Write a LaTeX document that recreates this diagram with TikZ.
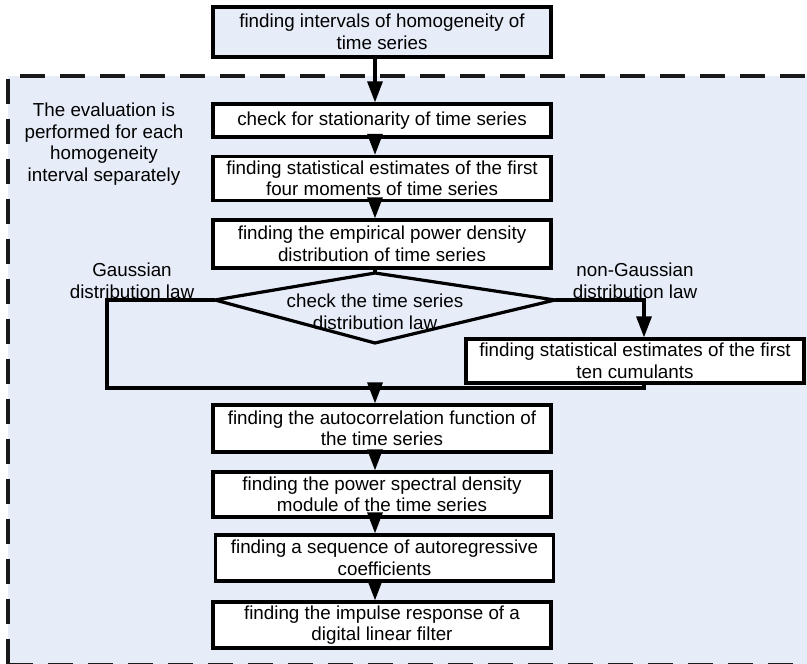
\documentclass[tikz,border=0pt]{standalone}
\usepackage{fontspec}
\setmainfont{Liberation Sans}
\usetikzlibrary{arrows.meta,calc}
\definecolor{bgblue}{RGB}{230,237,248}
\begin{document}
\begin{tikzpicture}[x=1bp,y=-1bp,
  font=\fontsize{18.8bp}{21.5bp}\selectfont,
  box/.style={draw=black,line width=3.2bp,fill=white,minimum width=338bp,inner sep=0pt,align=center},
  arr/.style={line width=3.2bp,-{Triangle[width=15bp,length=21bp]}},
  conn/.style={line width=3.2bp},
  lbl/.style={align=center,inner sep=0pt},
  frame/.style={line width=3.5bp,dash pattern=on 25bp off 15bp,black!90}]
\useasboundingbox (0,0) rectangle (807,664);
\fill[bgblue] (8,76) rectangle (830,670);
\draw[frame] (8,664) -- (8,76) -- (820,76);
\draw[frame] (8,665) -- (820,665);

\node[box,fill=bgblue,minimum height=50bp] (n0) at (382,32) {finding intervals of homogeneity of\\time series};
\node[box,minimum height=33bp] (n1) at (382,120.5) {check for stationarity of time series};
\node[box,minimum height=44bp] (n2) at (382,178.5) {finding statistical estimates of the first\\four moments of time series};
\node[box,minimum height=48bp] (n3) at (382,244) {finding the empirical power density\\distribution of time series};

\coordinate (dt) at (375,273);
\coordinate (dr) at (555,300);
\coordinate (db) at (375,343);
\coordinate (dl) at (215,300);
\draw[conn] (dt) -- (dr) -- (db) -- (dl) -- cycle;
\node[lbl] (dtext) at (375,312) {check the time series\\distribution law};

\node[box,minimum height=44bp] (n4) at (635,361) {finding statistical estimates of the first\\ten cumulants};
\node[box,minimum height=47bp] (n5) at (382,428.5) {finding the autocorrelation function of\\the time series};
\node[box,minimum height=45bp] (n6) at (382,494.5) {finding the power spectral density\\module of the time series};
\node[box,minimum height=46bp] (n7) at (384.5,558) {finding a sequence of autoregressive\\coefficients};
\node[box,minimum height=46bp] (n8) at (382,625) {finding the impulse response of a\\digital linear filter};

\node[lbl] (gauss) at (132,281) {Gaussian\\distribution law};
\node[lbl] (ngauss) at (635,281) {non-Gaussian\\distribution law};
\node[lbl] (note) at (104,144) {The evaluation is\\performed for each\\homogeneity\\interval separately};

\coordinate (sp) at (375,0);
\coordinate (gl) at (107,388);
\coordinate (jr) at (644,388);
\draw[arr] (n0.south -| sp) -- (n1.north -| sp);
\draw[arr] (n1.south -| sp) -- (n2.north -| sp);
\draw[arr] (n2.south -| sp) -- (n3.north -| sp);
\draw[conn] (n3.south -| sp) -- (dt);
\draw[arr] (dr) -| (jr |- n4.north);
\draw[conn] (dl) -| (gl) -- (jr) -- (jr |- n4.south);
\draw[arr] (sp |- gl) -- (n5.north -| sp);
\draw[arr] (n5.south -| sp) -- (n6.north -| sp);
\draw[arr] (n6.south -| sp) -- (n7.north -| sp);
\draw[arr] (n7.south -| sp) -- (n8.north -| sp);
\end{tikzpicture}
\end{document}
